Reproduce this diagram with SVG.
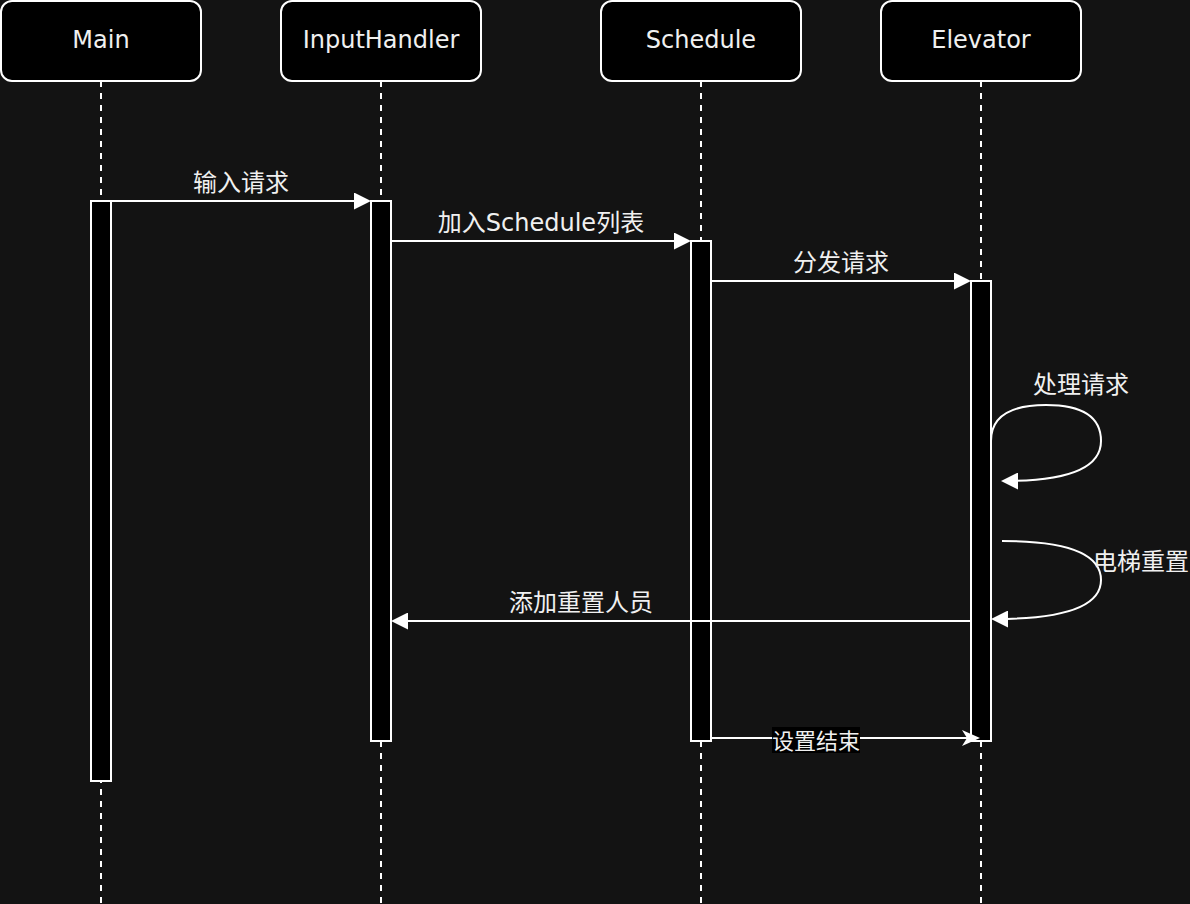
<svg xmlns="http://www.w3.org/2000/svg" width="1190" height="904" viewBox="0 0 1190 904">
  <style>
    .hdr { fill: #000000; stroke: #ffffff; stroke-width: 2; }
    .life { stroke: #ffffff; stroke-width: 2; stroke-dasharray: 6 6; fill: none; }
    .act { fill: #000000; stroke: #ffffff; stroke-width: 2; }
    .msg { stroke: #ffffff; stroke-width: 2; fill: none; }
    .t { font-family: "DejaVu Sans", "Noto Sans CJK SC", sans-serif; font-size: 24px; fill: #f0f0f0; text-anchor: middle; }
    .ts { font-family: "DejaVu Sans", "Noto Sans CJK SC", sans-serif; font-size: 22px; fill: #f0f0f0; text-anchor: middle; }
  </style>
  <defs>
    <marker id="block" markerUnits="userSpaceOnUse" markerWidth="17" markerHeight="17" refX="13" refY="8.5" orient="auto">
      <path d="M0,0 L17,8.5 L0,17 z" fill="#ffffff"/>
    </marker>
    <marker id="classic" markerUnits="userSpaceOnUse" markerWidth="18" markerHeight="16" refX="14" refY="8" orient="auto">
      <path d="M0,0 L18,8 L0,16 L5,8 z" fill="#ffffff"/>
    </marker>
  </defs>
  <rect x="0" y="0" width="1190" height="904" fill="#131313"/>

  <g id="lifelines">
    <line class="life" x1="101" y1="81" x2="101" y2="904"/>
    <line class="life" x1="381" y1="81" x2="381" y2="904"/>
    <line class="life" x1="701" y1="81" x2="701" y2="904"/>
    <line class="life" x1="981" y1="81" x2="981" y2="904"/>
  </g>

  <g id="node-main">
    <rect class="hdr" x="1" y="1" width="200" height="80" rx="11"/>
    <text class="t" x="101" y="48">Main</text>
    <rect class="act" x="91" y="201" width="20" height="580"/>
  </g>
  <g id="node-inputhandler">
    <rect class="hdr" x="281" y="1" width="200" height="80" rx="11"/>
    <text class="t" x="381" y="48">InputHandler</text>
    <rect class="act" x="371" y="201" width="20" height="540"/>
  </g>
  <g id="node-schedule">
    <rect class="hdr" x="601" y="1" width="200" height="80" rx="11"/>
    <text class="t" x="701" y="48">Schedule</text>
    <rect class="act" x="691" y="241" width="20" height="500"/>
  </g>
  <g id="node-elevator">
    <rect class="hdr" x="881" y="1" width="200" height="80" rx="11"/>
    <text class="t" x="981" y="48">Elevator</text>
    <rect class="act" x="971" y="281" width="20" height="460"/>
  </g>

  <g id="connectors">
    <path class="msg" d="M111,201 L367,201" marker-end="url(#block)"/>
    <text class="t" x="241" y="191">输入请求</text>

    <path class="msg" d="M391,241 L687,241" marker-end="url(#block)"/>
    <text class="t" x="541" y="231">加入Schedule列表</text>

    <path class="msg" d="M711,281 L967,281" marker-end="url(#block)"/>
    <text class="t" x="841" y="271">分发请求</text>

    <path class="msg" d="M991,441 Q991,405 1046,405 Q1101,405 1101,441 Q1101,481 1005,481" marker-end="url(#block)"/>
    <text class="t" x="1081" y="393">处理请求</text>

    <path class="msg" d="M1002,541 Q1101,541 1101,580 Q1101,619 995,619" marker-end="url(#block)"/>
    <text class="t" x="1141" y="570">电梯重置</text>

    <path class="msg" d="M971,621 L395,621" marker-end="url(#block)"/>
    <text class="t" x="581" y="611">添加重置人员</text>

    <path class="msg" d="M711,738 L976,738" marker-end="url(#classic)"/>
    <rect x="772" y="727" width="88" height="26" fill="#000000"/>
    <text class="ts" x="816" y="749">设置结束</text>
  </g>
</svg>
